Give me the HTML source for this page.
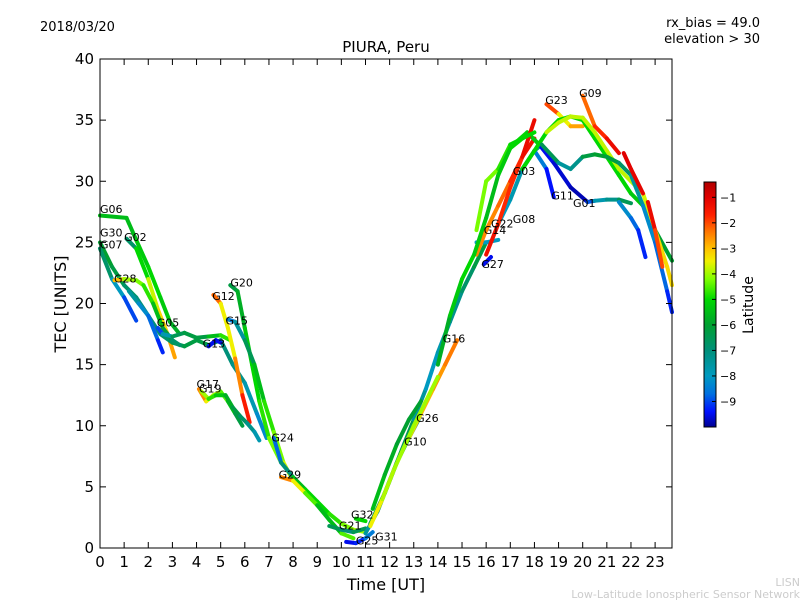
<!DOCTYPE html>
<html><head><meta charset="utf-8"><style>
body{margin:0;background:#fff;width:800px;height:600px;overflow:hidden}
svg text{font-family:"DejaVu Sans","Liberation Sans",sans-serif}
</style></head><body>
<svg id="chart" width="800" height="600" xmlns="http://www.w3.org/2000/svg">
<defs><linearGradient id="cbg" x1="0" y1="1" x2="0" y2="0"></linearGradient></defs>
<text x="40" y="31" font-size="13">2018/03/20</text>
<text x="760" y="27" font-size="13" text-anchor="end">rx_bias = 49.0</text>
<text x="760" y="43" font-size="13" text-anchor="end">elevation &gt; 30</text>
<text x="386" y="52" font-size="15" text-anchor="middle">PIURA, Peru</text>
<text x="66" y="304" font-size="16" text-anchor="middle" transform="rotate(-90 66 304)">TEC [UNITS]</text>
<text x="386" y="590" font-size="16" text-anchor="middle">Time [UT]</text>
<g id="plot"></g>
<rect x="100" y="59" width="572" height="489" fill="none" stroke="#000" stroke-width="1"/>
<g id="ticks"></g>
<rect x="704" y="182" width="12" height="245" fill="url(#cbg)" stroke="#000" stroke-width="1"/>
<g id="cbticks"></g>
<text x="753" y="305" font-size="14" text-anchor="middle" transform="rotate(-90 753 305)">Latitude</text>
<text x="800" y="586" font-size="11" fill="#ccc" text-anchor="end">LISN</text>
<text x="800" y="598" font-size="11" fill="#ccc" text-anchor="end">Low-Latitude Ionospheric Sensor Network</text>
</svg>
<script>
const xTicks=[0,1,2,3,4,5,6,7,8,9,10,11,12,13,14,15,16,17,18,19,20,21,22,23];
const yTicks=[0,5,10,15,20,25,30,35,40];
const cbTicks=[-1,-2,-3,-4,-5,-6,-7,-8,-9];
const trackNames=["G06","G02","G30","G07","G28","","G05","G13","G12","G20","G15","G17","G19","G24","G29","G21","G32","G25","G31","G26","G10","G16","","G27","G14","G22","G03","G08","G11","G01","G23","G09","","","","","","","",""];
const labelT=[0,1.0,0,0,0.58,0,2.35,4.25,4.65,5.4,5.2,4.0,4.1,7.1,7.4,9.9,10.4,10.6,11.4,13.1,12.6,14.2,0,15.8,15.9,16.2,17.1,17.1,18.7,19.6,18.45,19.85,0,0,0,0,0,0,0,0];
const labelV=[27.4,25.1,25.5,24.5,21.7,0,18.1,16.4,20.3,21.4,18.3,13.1,12.7,8.7,5.7,1.5,2.4,0.3,0.6,10.3,8.4,16.8,0,22.9,25.7,26.2,30.5,26.6,28.5,27.9,36.3,36.9,0,0,0,0,0,0,0,0];
const trackT=[
[0,1.1,1.5,2.0,2.5,2.9,3.3],
[1.1,1.5,2.0,2.4,2.8,3.1],
[0,0.5,1,1.5,2,2.5,3,3.5,4,4.5,5,5.5,6,6.5,6.9],
[0,0.5,1,1.5],
[0.6,1,1.5,1.8,2.2,2.6,3,3.3],
[1.2,1.6,2,2.4,2.6],
[2.4,2.6,3.0,3.5,4.0,4.5,5.0,5.4],
[4.5,4.8,5.0],
[4.7,5.0,5.3,5.6,5.9,6.2],
[5.4,5.7,6,6.3,6.6,7,7.5],
[5.3,5.6,6,6.4,6.8,7.2,7.6,8],
[4.1,4.4,4.7,5.0,5.3,5.6,5.9],
[4.2,4.5,4.8,5.2,5.5,5.8,6.1,6.4,6.6],
[7.2,7.5,8,8.5,9,9.5,10,10.5,11],
[7.5,8,8.5,9,9.5,10,10.5],
[9.5,10,10.5,11],
[10.6,11],
[10.2,10.6,11,11.3],
[11.0,11.5,12,12.5,13,13.5,14,14.5,15,15.5,16],
[11.3,11.8,12.3,12.8,13.3],
[11.2,11.8,12.3,12.8,13.2],
[12.8,13.3,13.8,14.3,14.8],
[11.2,11.7,12.2,13,14],
[15.9,16.2],
[15.6,16,16.5],
[15.6,16,16.5,17,17.5,18],
[15.6,16,16.5,17,17.3,17.7,18.2],
[16.5,17,17.5,18,18.3],
[18.0,18.5,18.8],
[18.2,18.8,19.5,20.2,20.5,21,21.5,22],
[18.5,19,19.5,20],
[20.0,20.5,21,21.5],
[17.5,18,18.5,19,19.5,20,20.5,21,21.5,22,22.5,23,23.7],
[18.5,19,19.5,20,20.5,21,21.5,22,22.5,23,23.5,23.7],
[18.3,19,19.5,20,20.5,21,21.5,22,22.5,23,23.5,23.7],
[21.5,22,22.3,22.6],
[21.7,22,22.5],
[22.7,23,23.3],
[16,16.5,17,17.5,18],
[14,14.5,15,15.5,16,16.5,17,17.5,18]];
const trackV=[
[27.2,27,25.2,23,20.5,18.5,17.5],
[25.3,24.5,22,19.5,17.5,15.6],
[25,23,21.5,20.5,19,17.5,16.8,16.5,17,16.6,17,15,13.5,11,9],
[24.5,22,20.5,18.6],
[21.9,22,21.9,21.5,20,18,17,16.6],
[21,20,19,17,16],
[18,17.5,17.3,17.6,17.2,17.3,17.4,17],
[16.5,17,16.8],
[20.7,20,18,15.5,12.5,10.3],
[21.5,21,18,15,12,9,7],
[18.7,18.5,17,15,12,9.5,7,5.5],
[13,12,12.5,12.8,12,11,10],
[12.8,12.2,12.5,12.5,11.5,10.8,10.2,9.5,8.8],
[9,7,5.8,4.8,3.8,2.8,2,1.5,1.3],
[5.8,5.5,4.5,3.5,2.3,1.2,0.8],
[1.8,1.5,1.3,1.6],
[2.4,2.2],
[0.5,0.4,0.8,1.3],
[1.2,3,5.5,8,10.5,13,16,18.5,21,23,25],
[3.2,6,8.5,10.5,12],
[2,4.5,7,9,10.5],
[9,11,13,15,17],
[1.8,4,6.5,10,14],
[23.2,23.8],
[25,25,25.2],
[24,26,28,30,32,33.5],
[26,30,31,33,33.3,34,33],
[26.5,28.5,31,32.5,33],
[32.5,31,28.7],
[33,31.5,29.5,28.3,28.4,28.5,28.5,28.2],
[36.3,35.5,34.5,34.5],
[37,34.5,33.5,32.3],
[31,32.5,34,35,35.3,35,33.5,32,30.5,29,28,26,23.5],
[34,34.8,35.3,35.2,34,32.5,31,30,29,26,23,21.5],
[33,31.5,31,32,32.2,32,31.5,30.5,28,25,21,19.3],
[28.3,27,26,23.8],
[32.3,31,29],
[28.3,26,23],
[24,26.5,29.5,32,35],
[15,19,22,24,27,30.5,32.7,33.5,34]];
const trackLat=[
[-5.5,-5.5,-5.5,-5,-5,-5.5,-6],
[-7.5,-6,-4,-3.5,-3,-2.5],
[-6,-6,-6.5,-7,-7,-7,-6.5,-6.5,-6,-6.5,-7,-7,-7.5,-8,-8.5],
[-6,-7.5,-8.5,-9.5],
[-2,-4,-4,-4.5,-5,-6,-6.5,-7],
[-7,-8,-8.5,-9,-9.5],
[-9.5,-8.5,-7,-6,-6.5,-6,-5,-4.5],
[-9.5,-9.5,-9.5],
[-1.5,-3,-4,-3,-2,-1.2],
[-6.5,-6,-5.5,-5,-5,-4.5,-4],
[-9,-8,-7,-6,-5,-4.5,-4,-3.5],
[-2,-3,-4,-4,-5,-6,-6.5],
[-3.5,-4.5,-5,-5.5,-6,-6.5,-7,-7.5,-8],
[-9.5,-8,-6,-5,-5,-5,-4.5,-4,-4],
[-2,-3,-4,-5,-6,-5,-4],
[-6,-7,-7,-6],
[-5,-5],
[-9.5,-9.5,-9,-8],
[-8,-7,-6.5,-6,-7,-8,-8,-7.5,-7,-6.5,-6],
[-5.5,-5.5,-6,-6,-6],
[-6.5,-6.5,-6.5,-7,-7],
[-3.5,-3,-2.8,-2.5,-2.3],
[-3.2,-3.8,-4,-4,-4],
[-9.5,-9.5],
[-8,-8,-8],
[-2.5,-2.5,-2.5,-2,-1.5,-1.2],
[-4.5,-4,-4.5,-5,-5,-5,-5.5],
[-8,-8,-7.5,-7.5,-7],
[-8,-9,-9.8],
[-9.5,-9.5,-9.8,-9.8,-8,-7.5,-7,-6],
[-1,-3,-4,-1.5],
[-2.5,-2,-1.5,-1],
[-5,-5,-5,-5,-5,-5,-5,-5,-5,-5,-5.5,-6,-6],
[-3.8,-3.8,-3.8,-3.8,-3.8,-3.8,-3.8,-3.8,-3.8,-3.5,-3,-3.5],
[-6,-7,-8,-6.5,-6,-6,-6.5,-7,-8,-8.5,-9,-9.5],
[-8,-8.5,-9,-9.5],
[-1,-1,-1.2],
[-1,-1.5,-2.5],
[-1.2,-1.5,-2,-1.5,-1],
[-6,-5.5,-5,-5,-5.5,-5.5,-5,-5,-5]];

const X0=100,X1=672,Y0=548,Y1=59;
const TMAX=23.7,VMAX=40;
function xs(t){return X0+t/TMAX*(X1-X0);}
function ys(v){return Y0-v/VMAX*(Y0-Y1);}
const LMIN=-10,LMAX=-0.4;
const cmapStops=[[-10,[0,0,144]],[-9.4,[0,16,255]],[-8.7,[0,112,224]],[-8,[0,154,192]],[-7,[0,144,122]],[-6,[0,160,48]],[-5,[0,216,0]],[-4.2,[128,255,0]],[-3.5,[240,240,0]],[-3,[255,192,0]],[-2.3,[255,112,0]],[-1.7,[255,32,0]],[-1,[224,0,0]],[-0.4,[176,0,0]]];
function cmap(lat){
  lat=Math.max(LMIN,Math.min(LMAX,lat));
  for(let i=0;i<cmapStops.length-1;i++){
    const a=cmapStops[i],b=cmapStops[i+1];
    if(lat<=b[0]){const f=(lat-a[0])/(b[0]-a[0]);
      const c=a[1].map((v,k)=>Math.round(v+(b[1][k]-v)*f));
      return `rgb(${c[0]},${c[1]},${c[2]})`;}
  }
  return 'rgb(176,0,0)';
}
const NS="http://www.w3.org/2000/svg";
const grad=document.getElementById('cbg');
cmapStops.forEach(s=>{const st=document.createElementNS(NS,'stop');
  st.setAttribute('offset',(s[0]-LMIN)/(LMAX-LMIN));
  st.setAttribute('stop-color',`rgb(${s[1].join(',')})`);grad.appendChild(st);});
const plot=document.getElementById('plot');
trackT.forEach((ts,i)=>{
  const g=document.createElementNS(NS,'g');
  
  
  const vs=trackV[i],ls=trackLat[i];
  for(let k=0;k<ts.length-1;k++){
    const ln=document.createElementNS(NS,'line');
    
    
    ln.setAttribute('x1',xs(ts[k]));ln.setAttribute('y1',ys(vs[k]));
    ln.setAttribute('x2',xs(ts[k+1]));ln.setAttribute('y2',ys(vs[k+1]));
    ln.setAttribute('stroke',cmap((ls[k]+ls[k+1])/2));
    ln.setAttribute('stroke-width','4');ln.setAttribute('stroke-linecap','round');
    g.appendChild(ln);
  }
  plot.appendChild(g);
});
trackNames.forEach((n,i)=>{
  if(!n)return;
  const t=document.createElementNS(NS,'text');
  
  
  t.setAttribute('x',xs(labelT[i]));t.setAttribute('y',ys(labelV[i]));
  t.setAttribute('font-size','11');t.textContent=n;
  plot.appendChild(t);
});
const tk=document.getElementById('ticks');
xTicks.forEach(v=>{
  const x=xs(v);
  [[Y0,Y0-6],[Y1,Y1+6]].forEach(p=>{const l=document.createElementNS(NS,'line');
  
  
  l.setAttribute('x1',x);l.setAttribute('x2',x);l.setAttribute('y1',p[0]);l.setAttribute('y2',p[1]);l.setAttribute('stroke','#000');tk.appendChild(l);});
  const t=document.createElementNS(NS,'text');
  
  
  t.setAttribute('x',x);t.setAttribute('y',Y0+19);t.setAttribute('font-size','15');t.setAttribute('text-anchor','middle');t.textContent=v;tk.appendChild(t);
});
yTicks.forEach(v=>{
  const y=ys(v);
  [[X0,X0+6],[X1,X1-6]].forEach(p=>{const l=document.createElementNS(NS,'line');
  
  
  l.setAttribute('x1',p[0]);l.setAttribute('x2',p[1]);l.setAttribute('y1',y);l.setAttribute('y2',y);l.setAttribute('stroke','#000');tk.appendChild(l);});
  const t=document.createElementNS(NS,'text');
  
  
  t.setAttribute('x',X0-6);t.setAttribute('y',y+5);t.setAttribute('font-size','15');t.setAttribute('text-anchor','end');t.textContent=v;tk.appendChild(t);
});
const cb=document.getElementById('cbticks');
cbTicks.forEach(v=>{
  const y=427-(v-LMIN)/(LMAX-LMIN)*245;
  const l=document.createElementNS(NS,'line');
  
  
  l.setAttribute('x1',712);l.setAttribute('x2',716);l.setAttribute('y1',y);l.setAttribute('y2',y);l.setAttribute('stroke','#000');cb.appendChild(l);
  const t=document.createElementNS(NS,'text');
  
  
  t.setAttribute('x',720);t.setAttribute('y',y+4);t.setAttribute('font-size','11');t.textContent='\u2212'+(-v);cb.appendChild(t);
});
</script>
</body></html>
